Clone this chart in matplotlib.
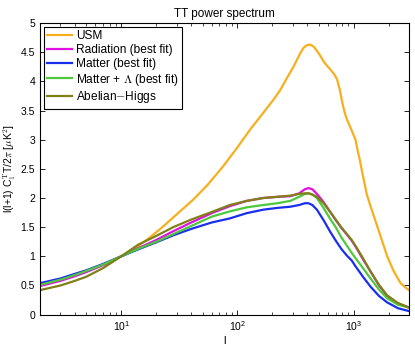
import matplotlib
matplotlib.use("Agg")
import matplotlib.pyplot as plt
import numpy as np

plt.rcParams['font.family'] = ['Liberation Sans', 'DejaVu Sans']
plt.rcParams['mathtext.fontset'] = 'cm'

# multipoles
ell = [2, 3, 4, 5, 7, 10, 14, 20, 28, 40, 60, 86, 120, 167, 220, 284, 340, 380, 408,
       440, 482, 550, 628, 700, 780, 875, 960, 1035, 1200, 1395, 1650, 1940, 2400, 3000]

radiation = [0.49, 0.58, 0.66, 0.73, 0.85, 1.0, 1.14, 1.28, 1.43, 1.58, 1.74, 1.86, 1.95,
             2.00, 2.02, 2.03, 2.08, 2.15, 2.17, 2.15, 2.07, 1.93, 1.76, 1.62, 1.49, 1.37,
             1.27, 1.17, 0.95, 0.74, 0.50, 0.32, 0.19, 0.12]
matter = [0.54, 0.62, 0.70, 0.76, 0.87, 1.0, 1.12, 1.24, 1.36, 1.47, 1.58, 1.65, 1.74,
          1.80, 1.83, 1.85, 1.88, 1.91, 1.91, 1.88, 1.80, 1.62, 1.42, 1.27, 1.13, 1.01,
          0.93, 0.83, 0.65, 0.48, 0.32, 0.21, 0.11, 0.06]
matter_lambda = [0.51, 0.60, 0.68, 0.75, 0.86, 1.0, 1.13, 1.25, 1.38, 1.52, 1.68, 1.77, 1.84,
                 1.88, 1.91, 1.95, 2.02, 2.07, 2.08, 2.06, 2.00, 1.83, 1.64, 1.50, 1.33, 1.18,
                 1.06, 0.97, 0.80, 0.62, 0.43, 0.28, 0.17, 0.12]
abelian_higgs = [0.42, 0.50, 0.58, 0.65, 0.80, 1.0, 1.20, 1.35, 1.50, 1.63, 1.76, 1.88, 1.95,
                 2.00, 2.02, 2.04, 2.07, 2.08, 2.08, 2.06, 2.02, 1.91, 1.76, 1.63, 1.50, 1.38,
                 1.28, 1.18, 0.97, 0.74, 0.51, 0.33, 0.20, 0.12]

ell_usm = [2, 3, 4, 5, 7, 10, 13, 17, 22, 30, 41.5, 55, 75, 100, 128, 165, 203, 233, 265,
           303, 340, 368, 395, 423, 455, 500, 560, 630, 680, 720, 760, 800, 840, 877, 950,
           1035, 1080, 1128, 1220, 1300, 1400, 1560, 1750, 1940, 2200, 2530, 2800, 3000]
usm = [0.50, 0.59, 0.67, 0.74, 0.86, 1.0, 1.13, 1.30, 1.48, 1.72, 1.97, 2.22, 2.54, 2.87,
       3.17, 3.45, 3.68, 3.85, 4.05, 4.25, 4.45, 4.57, 4.62, 4.63, 4.59, 4.48, 4.32, 4.20,
       4.12, 4.03, 3.85, 3.62, 3.45, 3.34, 3.18, 3.00, 2.82, 2.65, 2.31, 2.05, 1.85, 1.57,
       1.27, 1.00, 0.75, 0.54, 0.46, 0.42]

fig = plt.figure(figsize=(4.15, 3.45), dpi=100)
ax = fig.add_axes([0.0964, 0.088, 0.8896, 0.8453])

lw = 1.6
ax.plot(ell_usm, usm, color='#f9ae1e', lw=lw, label='USM')
ax.plot(ell, radiation, color='#e010e0', lw=lw, label='Radiation (best fit)')
ax.plot(ell, matter, color='#1a2ef0', lw=lw, label='Matter (best fit)')
ax.plot(ell, matter_lambda, color='#4ec83c', lw=lw, label=r'Matter + $\Lambda$ (best fit)')
ax.plot(ell, abelian_higgs, color='#808018', lw=lw, label='Abelian$-$Higgs')

ax.set_xscale('log')
ax.set_xlim(2, 3000)
ax.set_ylim(0, 5)
ax.set_yticks(np.arange(0, 5.01, 0.5))
ax.set_yticklabels(['0', '0.5', '1', '1.5', '2', '2.5', '3', '3.5', '4', '4.5', '5'])
ax.tick_params(which='both', direction='in', top=True, right=True, labelsize=7.5)
ax.tick_params(which='major', length=3.5, width=0.6)
ax.tick_params(which='minor', length=2, width=0.5)
for s in ax.spines.values():
    s.set_linewidth(0.8)

ax.set_title('TT power spectrum', fontsize=8.5, pad=4)
ax.set_xlabel('l', fontsize=8, labelpad=2)
ax.set_ylabel(r'l(l+1) C$_\mathrm{l}^\mathrm{T}$T/2$\pi$ [$\mu$K$^2$]', fontsize=7.5, labelpad=2)

leg = ax.legend(loc='upper left', fontsize=8.6, frameon=True, fancybox=False,
                edgecolor='black', framealpha=1, handlelength=2.1, handletextpad=0.3,
                borderpad=0.3, labelspacing=0.15, borderaxespad=0.3)
leg.get_frame().set_linewidth(0.8)

fig.savefig('out.png', dpi=100)
